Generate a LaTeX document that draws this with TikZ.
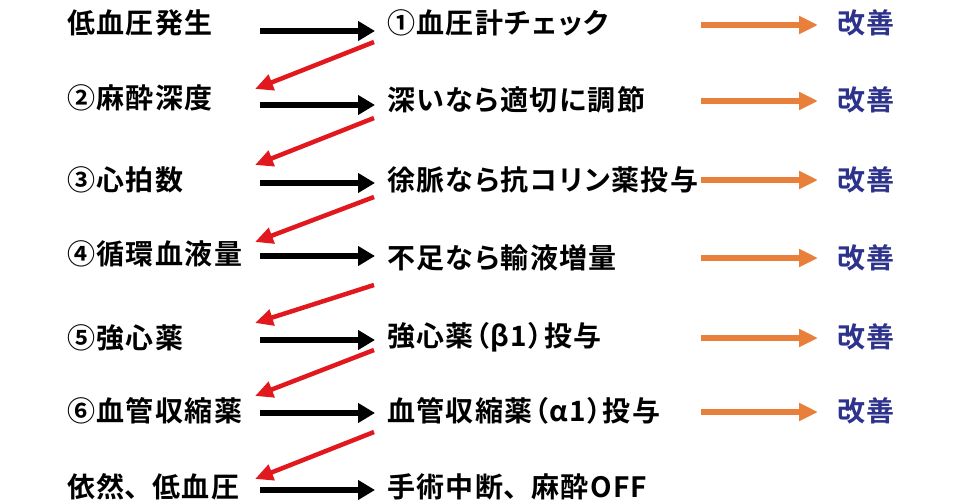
\documentclass[tikz,border=0pt]{standalone}
\usepackage{fontspec}
\setmainfont{Noto Sans CJK JP}[UprightFont=* Bold]
\newfontfamily\jp{Noto Sans CJK JP}[UprightFont=* Bold,LetterSpace=5,RawFeature=+palt]
\newfontfamily\jpfull{Noto Sans CJK JP}[UprightFont=* Bold,LetterSpace=5]
\newcommand{\tenmark}{{\jpfull 、}}
\usetikzlibrary{arrows.meta}
\definecolor{myred}{RGB}{225,25,30}
\definecolor{myorange}{RGB}{232,128,60}
\definecolor{mynavy}{RGB}{45,50,140}
\tikzset{
  lefttxt/.style={anchor=west,inner sep=0pt,font=\jp\fontsize{28}{30}\selectfont},
  midtxt/.style={anchor=west,inner sep=0pt,font=\jp\fontsize{28}{30}\selectfont},
  goodtxt/.style={anchor=west,inner sep=0pt,text=mynavy,font=\jp\fontsize{28}{30}\selectfont},
  blkarrow/.style={line width=6pt,-{Triangle[length=17pt,width=19pt]}},
  redarrow/.style={line width=4.5pt,myred,-{Triangle[length=18pt,width=16pt]}},
  orgarrow/.style={line width=5.5pt,myorange,-{Triangle[length=19pt,width=17pt]}},
}
\begin{document}
\begin{tikzpicture}[x=1pt,y=-1pt]
\useasboundingbox (0,0) rectangle (960,503);
% rows
\node[lefttxt] (l1) at (67,23) {低血圧発生};
\node[lefttxt] (l2) at (67,98) {②麻酔深度};
\node[lefttxt] (l3) at (67,180) {③心拍数};
\node[lefttxt] (l4) at (67,254) {④循環血液量};
\node[lefttxt] (l5) at (67,338) {⑤強心薬};
\node[lefttxt] (l6) at (67,411) {⑥血管収縮薬};
\node[lefttxt] (l7) at (67,487) {依然\tenmark 低血圧};
\node[midtxt] (m1) at (387,23) {①血圧計チェック};
\node[midtxt] (m2) at (387,100) {深いなら適切に調節};
\node[midtxt] (m3) at (387,180) {徐脈なら抗コリン薬投与};
\node[midtxt] (m4) at (387,258) {不足なら輸液増量};
\node[midtxt] (m5) at (387,337) {強心薬（β1）投与};
\node[midtxt] (m6) at (387,411) {血管収縮薬（α1）投与};
\node[midtxt] (m7) at (387,487) {手術中断\tenmark 麻酔OFF};
\foreach \i/\y in {1/23,2/100,3/180,4/258,5/337,6/411}{
  \node[goodtxt] (r\i) at (837,\y) {改善};
}
% black arrows
\foreach \i/\y in {1/31,2/105,3/183,4/256,5/340,6/413,7/490}{
  \coordinate (bs\i) at (260,\y);
  \coordinate (be\i) at (375,\y);
  \draw[blkarrow] (bs\i) -- (be\i);
}
% orange arrows
\foreach \i/\y in {1/25,2/101,3/180,4/258,5/338,6/412}{
  \coordinate (os\i) at (701,\y);
  \coordinate (oe\i) at (818,\y);
  \draw[orgarrow] (os\i) -- (oe\i);
}
% red arrows
\foreach \i/\ya/\yb in {1/42/89,2/118/165,3/197/242,4/285/323,5/350/396,6/432/479}{
  \coordinate (rs\i) at (374,\ya);
  \coordinate (re\i) at (255,\yb);
  \draw[redarrow] (rs\i) -- (re\i);
}
\end{tikzpicture}
\end{document}
